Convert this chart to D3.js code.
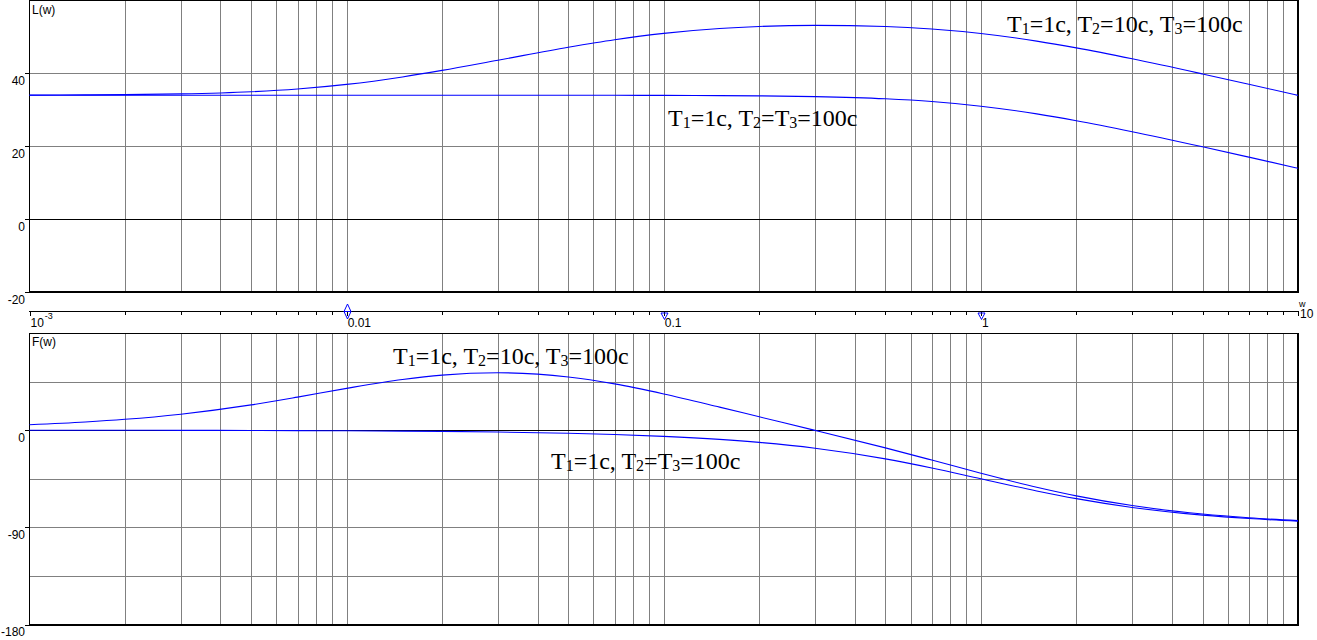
<!DOCTYPE html>
<html><head><meta charset="utf-8">
<script src="https://cdnjs.cloudflare.com/ajax/libs/d3/7.8.5/d3.min.js"></script>
<style>body{margin:0;background:#fff;} svg{display:block}</style>
</head><body><svg id="c" width="1317" height="640"></svg>
<script>
// ---- data ----
const freq = [0.001,0.0015,0.002,0.003,0.005,0.007,0.01,0.015,0.02,0.03,0.05,0.07,0.1,0.15,0.2,0.3,0.5,0.7,1,1.5,2,3,5,7,10];
const magUpper = [34.04,34.10,34.17,34.37,34.96,35.71,36.97,39.02,40.82,43.62,47.17,49.24,50.99,52.33,52.87,53.17,52.86,52.18,50.95,48.86,47.00,44.00,39.85,37.01,33.96];
const magLower = [34.00,34.00,34.00,34.00,34.00,34.00,34.00,34.00,34.00,34.00,33.99,33.98,33.96,33.90,33.83,33.63,33.03,32.27,30.99,28.88,27.01,24.00,19.85,17.01,13.96];
const phaseUpper = [5.08,7.59,10.05,14.81,23.42,30.59,38.72,46.92,50.98,53.15,49.26,42.87,33.58,21.35,12.39,-0.17,-16.40,-27.68,-39.86,-52.88,-60.86,-69.85,-77.66,-81.13,-83.77];
const phaseLower = [-0.06,-0.09,-0.11,-0.17,-0.29,-0.40,-0.57,-0.86,-1.15,-1.72,-2.86,-4.00,-5.71,-8.53,-11.31,-16.70,-26.57,-34.99,-45.00,-56.31,-63.43,-71.57,-78.69,-81.87,-84.29];
const magTicks = [40,20,0,-20];
const magGrid = [40,20];
const phaseTicks = [0,-90,-180];
const phaseGrid = [45,-45,-90,-135];
const decades = [0.001,0.01,0.1,1,10];
const decadeLabels = ["10","0.01","0.1","1","10"];
const cornerFreqs = [0.01,0.1,1];
const cornerKinds = ["both","pole","pole"];
const labelUpper = "T_1=1c, T_2=10c, T_3=100c";
const labelLower = "T_1=1c, T_2=T_3=100c";

// ---- layout ----
const svg = d3.select("#c");
const x = d3.scaleLog().domain([0.001,10]).range([29.5,1298]);
const yL = d3.scaleLinear().domain([-20,60]).range([292,0.5]);
const yF = d3.scaleLinear().domain([-180,90]).range([624.5,333]);
const px = v => Math.round(x(v)) + 0.5;
const py = (s,v) => Math.round(s(v)) + 0.5;

const minorFreqs = [];
for (let k = -3; k < 1; k++) for (let m = 1; m < 10; m++) minorFreqs.push(m * Math.pow(10,k));
minorFreqs.push(10);

function panel(y, grid, ticks, name) {
  const g = svg.append("g");
  const top = y.range()[1], bot = y.range()[0];
  // vertical grid
  g.selectAll(null).data(minorFreqs.slice(1,-1)).join("line")
    .attr("x1", px).attr("x2", px).attr("y1", top).attr("y2", bot)
    .attr("stroke", "#808080").attr("stroke-width", 1).attr("shape-rendering","crispEdges");
  // horizontal grid
  g.selectAll(null).data(grid).join("line")
    .attr("x1", 29.5).attr("x2", 1298).attr("y1", d=>py(y,d)).attr("y2", d=>py(y,d))
    .attr("stroke", "#808080").attr("shape-rendering","crispEdges");
  // zero line
  g.append("line").attr("x1",29.5).attr("x2",1298).attr("y1",py(y,0)).attr("y2",py(y,0))
    .attr("stroke","#000").attr("shape-rendering","crispEdges");
  // frame
  g.append("line").attr("x1",29.5).attr("x2",29.5).attr("y1",top).attr("y2",bot+1).attr("stroke","#000").attr("shape-rendering","crispEdges");
  g.append("line").attr("x1",29).attr("x2",1299).attr("y1",Math.floor(top)+0.5).attr("y2",Math.floor(top)+0.5).attr("stroke","#000").attr("shape-rendering","crispEdges");
  g.append("line").attr("x1",1298).attr("x2",1298).attr("y1",top).attr("y2",bot+1).attr("stroke","#000").attr("stroke-width",2).attr("shape-rendering","crispEdges");
  g.append("line").attr("x1",29).attr("x2",1299).attr("y1",Math.round(bot)).attr("y2",Math.round(bot)).attr("stroke","#000").attr("stroke-width",2).attr("shape-rendering","crispEdges");
  // ticks + labels
  g.selectAll(null).data(ticks).join("line")
    .attr("x1",25).attr("x2",29.5).attr("y1",d=>py(y,d)).attr("y2",d=>py(y,d))
    .attr("stroke","#000").attr("shape-rendering","crispEdges");
  g.selectAll(null).data(ticks).join("text")
    .attr("x",25).attr("y",d=>y(d)+11.5).attr("text-anchor","end")
    .attr("font-family","Liberation Sans, Arial, sans-serif").attr("font-size",12)
    .text(d=>d);
  g.append("text").attr("x",32).attr("y",top+13).attr("font-family","Liberation Sans, Arial, sans-serif")
    .attr("font-size",12).text(name);
}
panel(yL, magGrid, magTicks, "L(w)");
panel(yF, phaseGrid, phaseTicks, "F(w)");

// ---- middle frequency axis ----
const ax = svg.append("g");
const axY = 311.5;
ax.append("line").attr("x1",29).attr("x2",1299).attr("y1",axY).attr("y2",axY).attr("stroke","#000").attr("shape-rendering","crispEdges");
ax.selectAll(null).data(minorFreqs).join("line")
  .attr("x1",px).attr("x2",px).attr("y1",axY)
  .attr("y2",d=> decades.includes(d) ? axY+4 : axY+3)
  .attr("stroke","#000").attr("shape-rendering","crispEdges");
const lf = "Liberation Sans, Arial, sans-serif";
decades.forEach((d,i)=>{
  const last = i === decades.length-1;
  const t = ax.append("text").attr("font-family",lf).attr("font-size",12)
    .attr("x", last ? x(d)+2 : x(d)+1).attr("y", last ? 318 : 327).text(decadeLabels[i]);
  if (i === 0) t.append("tspan").attr("font-size",9).attr("dy",-8).attr("dx",1).text("-3");
});
ax.append("text").attr("font-family",lf).attr("font-size",9).attr("x",1299).attr("y",307).text("w");
// corner frequency markers
cornerFreqs.forEach((f,i)=>{
  const cx = Math.round(x(f)) + 0.5;
  if (cornerKinds[i] === "both") {
    ax.append("path").attr("d",`M${cx},304 L${cx+3.5},311.5 L${cx-3.5},311.5 Z M${cx-3.5},311.5 L${cx},319 L${cx+3.5},311.5`)
      .attr("fill","none").attr("stroke","#0000ff");
  } else {
    ax.append("path").attr("d",`M${cx-3.5},313 L${cx+3.5},313 L${cx},319.5 Z`)
      .attr("fill","none").attr("stroke","#0000ff");
  }
});

// ---- curves ----
const data = freq.map((w,i)=>({w, mu:magUpper[i], ml:magLower[i], fu:phaseUpper[i], fl:phaseLower[i]}));
function curve(y, key) {
  svg.append("path").datum(data)
    .attr("d", d3.line().x(d=>x(d.w)).y(d=>y(d[key])).curve(d3.curveMonotoneX))
    .attr("fill","none").attr("stroke","#0000ff").attr("stroke-width",1.1);
}
curve(yL,"ml"); curve(yL,"mu"); curve(yF,"fl"); curve(yF,"fu");

// ---- series labels ----
function label(str, lx, ly) {
  const t = svg.append("text").attr("x",lx).attr("y",ly)
    .attr("font-family","Liberation Serif, Times New Roman, serif").attr("font-size",24).attr("fill","#000");
  const parts = str.split(/_(\d)/);
  parts.forEach((p,i)=>{
    if (i % 2 === 1) t.append("tspan").attr("font-size",16).attr("dy",2).text(p);
    else if (p) t.append("tspan").attr("dy", i>0 ? -2 : 0).text(p);
  });
}
label(labelUpper, 1007, 31.5);
label(labelLower, 668, 126);
label(labelUpper, 393, 364);
label(labelLower, 551, 469);
</script></body></html>
